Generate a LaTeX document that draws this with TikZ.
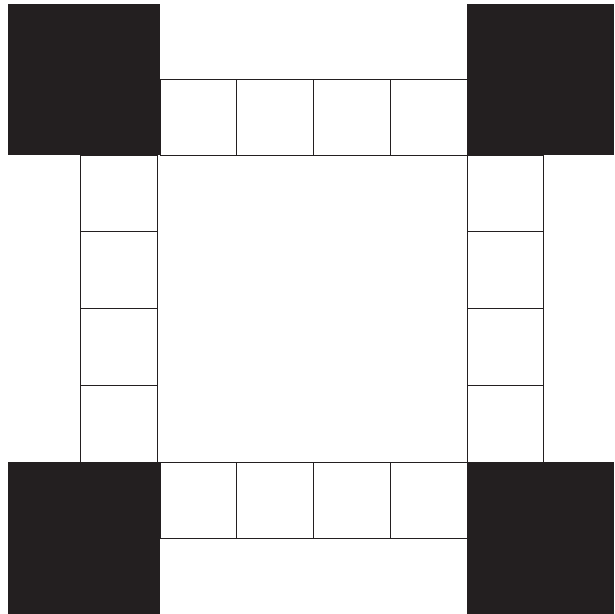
\documentclass[tikz,border=0pt]{standalone}
\usepackage{tikz}
\usetikzlibrary{positioning}
\definecolor{inkblack}{HTML}{231F20}

\begin{document}
\begin{tikzpicture}[
  x=1pt, y=-1pt,
  cell/.style={draw=inkblack, line width=1pt, rectangle, minimum size=76.75pt, inner sep=0pt, outer sep=0pt, anchor=north west},
  blk/.style={fill=inkblack, rectangle, inner sep=0pt, outer sep=0pt, anchor=north west}
]
\useasboundingbox (0,0) rectangle (614,614);
% rows of cells along top and bottom
\foreach \i in {0,...,3} {
  \node[cell] (top\i) at ({160+76.75*\i},79) {};
  \node[cell] (bot\i) at ({160+76.75*\i},462) {};
}
% columns of cells along left and right
\foreach \i in {0,...,3} {
  \node[cell] (lft\i) at (80.5,{155+76.75*\i}) {};
  \node[cell] (rgt\i) at (467,{155+76.75*\i}) {};
}
% corner blocks
\node[blk, minimum width=152pt, minimum height=151pt] (tl) at (8,4) {};
\node[blk, minimum width=147pt, minimum height=151pt] (tr) at (467,4) {};
\node[blk, minimum width=152pt, minimum height=152pt] (bl) at (8,462) {};
\node[blk, minimum width=147pt, minimum height=152pt] (br) at (467,462) {};
\end{tikzpicture}
\end{document}
